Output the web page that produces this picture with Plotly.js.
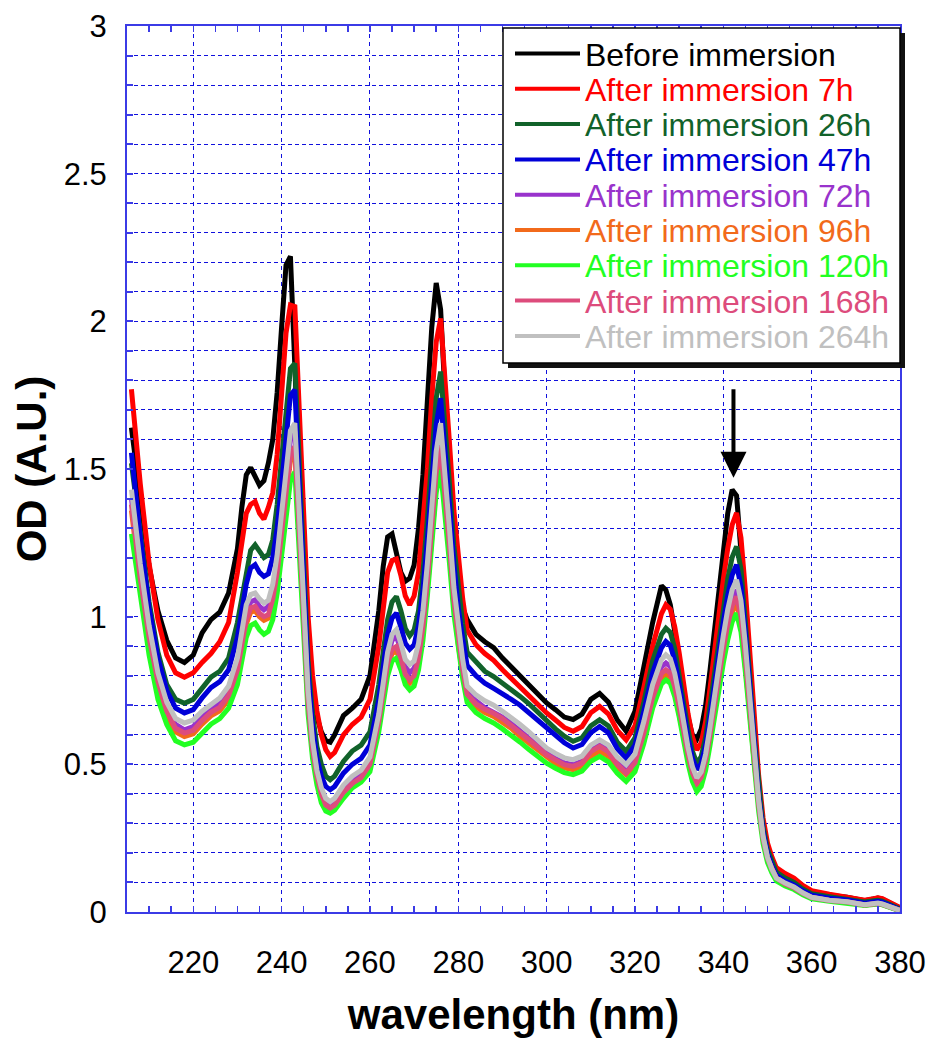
<!DOCTYPE html>
<html>
<head>
<meta charset="utf-8">
<script src="https://cdn.plot.ly/plotly-3.0.1.min.js"></script>
<style>html,body{margin:0;padding:0;background:#fff;}#chart{width:928px;height:1043px;}</style>
</head>
<body>
<div id="chart"></div>
<script>
// ---- data ----
const wavelength = [206,208,210,212,214,216,218,220,222,224,226,228,230,231,232,233,234,235,236,237,238,239,240,241,242,243,244,245,246,247,248,249,250,251,252,254,256,258,260,262,263,264,265,266,267,268,269,270,271,272,273,274,275,276,277,278,279,280,281,282,284,286,288,290,292,294,296,298,300,302,304,306,308,310,312,314,316,318,320,322,324,326,327,328,329,330,331,332,333,334,335,336,337,338,339,340,341,342,343,344,345,346,347,348,349,350,351,352,354,356,358,360,364,368,372,374,375,376,378,380];

const seriesNames = ["Before immersion","After immersion 7h","After immersion 26h","After immersion 47h","After immersion 72h","After immersion 96h","After immersion 120h","After immersion 168h","After immersion 264h"];
const seriesColors = ["#000000","#ff0000","#11622a","#0000d8","#9933cc","#f26a1b","#22ff22","#dd4c7c","#c0c0c0"];

const odBefore = [1.64,1.40,1.17,1.02,0.92,0.86,0.845,0.87,0.945,0.99,1.015,1.08,1.23,1.37,1.48,1.505,1.475,1.445,1.46,1.52,1.60,1.76,1.98,2.19,2.22,1.85,1.42,1.10,0.88,0.74,0.66,0.61,0.58,0.575,0.60,0.665,0.69,0.72,0.80,1.02,1.17,1.27,1.28,1.21,1.15,1.12,1.13,1.175,1.30,1.48,1.72,1.98,2.13,2.04,1.75,1.50,1.27,1.12,1.03,0.99,0.94,0.915,0.895,0.86,0.83,0.80,0.77,0.74,0.708,0.685,0.66,0.652,0.67,0.72,0.74,0.71,0.65,0.612,0.68,0.83,0.98,1.105,1.09,1.04,0.96,0.86,0.75,0.66,0.60,0.585,0.62,0.70,0.82,0.95,1.09,1.23,1.35,1.43,1.41,1.22,1.00,0.78,0.57,0.40,0.27,0.20,0.165,0.145,0.125,0.11,0.085,0.068,0.057,0.05,0.038,0.044,0.047,0.044,0.03,0.013];

const od7h = [1.77,1.45,1.18,0.99,0.87,0.81,0.795,0.81,0.845,0.875,0.915,0.98,1.15,1.25,1.35,1.38,1.39,1.35,1.33,1.37,1.42,1.55,1.74,1.96,2.055,2.05,1.70,1.30,1.00,0.80,0.68,0.60,0.55,0.527,0.54,0.60,0.635,0.66,0.72,0.90,1.04,1.15,1.19,1.195,1.14,1.07,1.04,1.07,1.15,1.32,1.50,1.74,1.93,2.01,1.82,1.59,1.36,1.19,1.06,0.955,0.905,0.875,0.852,0.82,0.79,0.76,0.735,0.705,0.674,0.65,0.625,0.612,0.628,0.675,0.696,0.67,0.615,0.583,0.63,0.76,0.90,1.01,1.04,1.025,0.966,0.878,0.77,0.672,0.593,0.549,0.573,0.645,0.758,0.886,1.014,1.126,1.231,1.311,1.351,1.267,1.087,0.871,0.654,0.462,0.318,0.234,0.186,0.15,0.13,0.115,0.09,0.072,0.06,0.052,0.04,0.045,0.048,0.045,0.032,0.015];

const od26h = [1.52,1.28,1.05,0.88,0.77,0.72,0.707,0.72,0.76,0.795,0.815,0.86,0.98,1.07,1.16,1.225,1.243,1.22,1.20,1.21,1.26,1.38,1.53,1.70,1.84,1.858,1.52,1.13,0.85,0.67,0.56,0.50,0.46,0.448,0.46,0.51,0.545,0.565,0.61,0.77,0.88,0.99,1.05,1.068,1.02,0.96,0.935,0.955,1.02,1.15,1.33,1.53,1.74,1.83,1.66,1.45,1.24,1.09,0.975,0.88,0.845,0.815,0.797,0.775,0.755,0.73,0.705,0.675,0.645,0.62,0.595,0.578,0.59,0.63,0.651,0.63,0.575,0.544,0.59,0.71,0.85,0.94,0.961,0.947,0.892,0.81,0.71,0.618,0.545,0.504,0.526,0.592,0.695,0.812,0.93,1.032,1.128,1.201,1.238,1.161,0.995,0.797,0.598,0.422,0.289,0.212,0.168,0.135,0.115,0.1,0.078,0.062,0.052,0.045,0.034,0.038,0.04,0.037,0.025,0.01];

const od47h = [1.555,1.27,1.03,0.86,0.75,0.69,0.674,0.685,0.725,0.76,0.78,0.82,0.93,1.02,1.11,1.165,1.176,1.15,1.136,1.145,1.20,1.30,1.45,1.62,1.75,1.768,1.44,1.08,0.81,0.63,0.52,0.46,0.425,0.414,0.425,0.47,0.50,0.52,0.565,0.72,0.83,0.94,0.995,1.012,0.965,0.91,0.89,0.905,0.97,1.09,1.26,1.45,1.65,1.74,1.58,1.38,1.18,1.03,0.925,0.835,0.80,0.775,0.757,0.74,0.72,0.70,0.675,0.65,0.628,0.60,0.573,0.555,0.567,0.607,0.628,0.607,0.553,0.521,0.565,0.68,0.81,0.895,0.916,0.903,0.851,0.773,0.677,0.591,0.521,0.482,0.503,0.565,0.662,0.773,0.885,0.982,1.072,1.141,1.176,1.102,0.945,0.756,0.566,0.398,0.272,0.199,0.157,0.125,0.105,0.092,0.072,0.057,0.047,0.041,0.03,0.034,0.036,0.033,0.022,0.008];

const od72h = [1.40,1.15,0.94,0.79,0.69,0.635,0.617,0.628,0.66,0.688,0.705,0.745,0.835,0.925,1.015,1.05,1.057,1.035,1.023,1.035,1.08,1.18,1.32,1.47,1.60,1.627,1.33,0.98,0.73,0.57,0.47,0.41,0.372,0.36,0.372,0.415,0.445,0.465,0.51,0.655,0.76,0.86,0.92,0.933,0.885,0.83,0.81,0.825,0.88,0.99,1.15,1.33,1.52,1.61,1.455,1.265,1.075,0.938,0.834,0.748,0.715,0.692,0.678,0.66,0.638,0.612,0.588,0.562,0.538,0.52,0.505,0.499,0.51,0.548,0.566,0.548,0.51,0.488,0.52,0.625,0.745,0.83,0.843,0.831,0.783,0.712,0.624,0.545,0.481,0.445,0.464,0.523,0.613,0.716,0.82,0.91,0.994,1.059,1.091,1.023,0.876,0.701,0.525,0.369,0.252,0.183,0.144,0.115,0.095,0.082,0.063,0.049,0.039,0.034,0.024,0.027,0.029,0.026,0.017,0.005];

const od96h = [1.36,1.11,0.91,0.76,0.665,0.61,0.594,0.603,0.636,0.664,0.681,0.72,0.805,0.89,0.975,1.015,1.02,1.0,0.988,0.995,1.045,1.14,1.26,1.40,1.53,1.555,1.27,0.94,0.70,0.54,0.45,0.39,0.355,0.345,0.355,0.40,0.43,0.45,0.49,0.635,0.735,0.825,0.875,0.885,0.845,0.79,0.775,0.79,0.845,0.945,1.095,1.265,1.44,1.52,1.385,1.21,1.032,0.904,0.807,0.727,0.695,0.675,0.662,0.643,0.622,0.595,0.572,0.545,0.521,0.503,0.488,0.482,0.493,0.527,0.544,0.527,0.492,0.465,0.498,0.595,0.71,0.79,0.803,0.792,0.746,0.678,0.595,0.52,0.459,0.425,0.444,0.50,0.586,0.686,0.785,0.872,0.953,1.015,1.046,0.981,0.841,0.674,0.506,0.357,0.245,0.18,0.143,0.115,0.095,0.082,0.063,0.049,0.039,0.034,0.024,0.027,0.029,0.026,0.017,0.005];

const od120h = [1.28,1.06,0.87,0.72,0.635,0.58,0.566,0.575,0.605,0.636,0.655,0.69,0.77,0.85,0.93,0.97,0.978,0.955,0.94,0.95,0.99,1.08,1.20,1.34,1.46,1.49,1.22,0.90,0.67,0.52,0.43,0.37,0.342,0.335,0.345,0.385,0.42,0.44,0.475,0.61,0.71,0.80,0.85,0.86,0.82,0.77,0.752,0.765,0.82,0.92,1.07,1.24,1.42,1.497,1.355,1.182,1.009,0.883,0.789,0.71,0.675,0.655,0.64,0.62,0.60,0.575,0.55,0.527,0.504,0.487,0.472,0.465,0.477,0.51,0.527,0.508,0.47,0.442,0.475,0.57,0.69,0.772,0.786,0.775,0.729,0.661,0.578,0.503,0.442,0.408,0.426,0.48,0.565,0.662,0.758,0.843,0.921,0.982,1.012,0.948,0.812,0.649,0.486,0.341,0.232,0.168,0.132,0.105,0.088,0.076,0.058,0.045,0.036,0.031,0.022,0.025,0.027,0.024,0.015,0.004];

const od168h = [1.38,1.13,0.93,0.78,0.68,0.622,0.606,0.615,0.648,0.676,0.693,0.733,0.82,0.905,0.99,1.03,1.035,1.012,1.0,1.007,1.06,1.15,1.28,1.42,1.55,1.576,1.29,0.95,0.71,0.55,0.46,0.40,0.362,0.352,0.362,0.405,0.435,0.455,0.50,0.645,0.745,0.84,0.89,0.899,0.86,0.805,0.786,0.80,0.86,0.965,1.12,1.30,1.49,1.576,1.425,1.24,1.056,0.922,0.821,0.737,0.705,0.686,0.673,0.655,0.633,0.607,0.583,0.557,0.533,0.515,0.499,0.493,0.505,0.543,0.561,0.542,0.50,0.471,0.505,0.605,0.725,0.808,0.82,0.809,0.763,0.694,0.609,0.533,0.471,0.437,0.456,0.513,0.601,0.702,0.803,0.891,0.973,1.036,1.068,1.001,0.858,0.687,0.515,0.363,0.248,0.182,0.144,0.115,0.095,0.082,0.063,0.049,0.039,0.034,0.024,0.027,0.029,0.026,0.017,0.005];

const od264h = [1.43,1.18,0.97,0.81,0.71,0.655,0.64,0.65,0.68,0.705,0.725,0.765,0.86,0.95,1.04,1.075,1.08,1.06,1.046,1.055,1.11,1.21,1.35,1.50,1.63,1.655,1.35,1.00,0.75,0.58,0.48,0.42,0.385,0.374,0.385,0.43,0.46,0.48,0.525,0.67,0.78,0.88,0.94,0.956,0.91,0.855,0.838,0.85,0.91,1.02,1.18,1.37,1.56,1.655,1.495,1.30,1.10,0.96,0.855,0.765,0.735,0.715,0.70,0.68,0.66,0.635,0.61,0.582,0.555,0.537,0.522,0.516,0.528,0.565,0.583,0.565,0.525,0.499,0.535,0.645,0.77,0.855,0.871,0.858,0.808,0.733,0.642,0.558,0.492,0.454,0.474,0.535,0.628,0.736,0.843,0.937,1.024,1.091,1.125,1.054,0.903,0.721,0.539,0.378,0.256,0.186,0.145,0.115,0.098,0.085,0.065,0.05,0.04,0.035,0.025,0.028,0.03,0.027,0.018,0.005];

const seriesValues = [odBefore, od7h, od26h, od47h, od72h, od96h, od120h, od168h, od264h];

const xTitle = "wavelength (nm)";
const yTitle = "OD (A.U.)";
const arrowTarget = {x: 342.3, y: 1.47};

// ---- layout geometry ----
const W = 928, H = 1043;
const M = {l: 127, r: 28, t: 26, b: 131};
const PW = W - M.l - M.r, PH = H - M.t - M.b;
const px = v => (v - M.l) / PW;          // pixel x -> paper
const py = v => (H - M.b - v) / PH;      // pixel y -> paper

const FONT = "Liberation Sans, Arial, sans-serif";
const AXIS_BLUE = "#3b3be6";
const GRID_BLUE = "#1010dd";

const traces = seriesNames.map((name, i) => ({
  type: "scatter", mode: "lines", name: name,
  x: wavelength, y: seriesValues[i],
  line: {color: seriesColors[i], width: 5},
  showlegend: false
}));

// custom legend box
const shapes = [];
const annotations = [];
const LB = {x0: 503, x1: 900, y0: 28, y1: 363};
shapes.push({type: "rect", xref: "paper", yref: "paper",
  x0: px(LB.x0 + 5), x1: px(LB.x1 + 5), y0: py(LB.y1 + 5), y1: py(LB.y0 + 5),
  fillcolor: "#111", line: {width: 0}, layer: "above"});
shapes.push({type: "rect", xref: "paper", yref: "paper",
  x0: px(LB.x0), x1: px(LB.x1), y0: py(LB.y1), y1: py(LB.y0),
  fillcolor: "#ffffff", line: {color: "#000", width: 1.5}, layer: "above"});
seriesNames.forEach((name, i) => {
  const yc = 53.5 + i * 35.3;
  shapes.push({type: "line", xref: "paper", yref: "paper",
    x0: px(515), x1: px(580), y0: py(yc), y1: py(yc),
    line: {color: seriesColors[i], width: 4}, layer: "above"});
  annotations.push({xref: "paper", yref: "paper", x: px(583), y: py(yc + 1),
    xanchor: "left", yanchor: "middle", showarrow: false, text: name,
    font: {family: FONT, size: 32, color: seriesColors[i]}});
});

// arrow
annotations.push({x: arrowTarget.x, y: arrowTarget.y, xref: "x", yref: "y",
  ax: 0, ay: -90, showarrow: true, arrowhead: 2, arrowsize: 1.3, arrowwidth: 4,
  arrowcolor: "#000", text: ""});

const layout = {
  width: W, height: H,
  margin: M,
  paper_bgcolor: "#fff", plot_bgcolor: "#fff",
  font: {family: FONT, size: 30, color: "#000"},
  showlegend: false,
  xaxis: {
    range: [205, 380], tick0: 200, dtick: 20,
    showgrid: true, gridcolor: GRID_BLUE, gridwidth: 1, griddash: "4px,4px",
    showline: true, linecolor: AXIS_BLUE, linewidth: 2, mirror: "ticks",
    ticks: "inside", ticklen: 6, tickcolor: AXIS_BLUE, tickwidth: 1.5,
    minor: {dtick: 5, tick0: 200, ticks: "inside", ticklen: 6, tickcolor: AXIS_BLUE, tickwidth: 1.5, showgrid: false},
    ticklabelstandoff: 22,
    tickfont: {family: FONT, size: 31, color: "#000"},
    zeroline: false, automargin: false,
    title: {text: xTitle, font: {family: FONT, size: 42, color: "#000", weight: "bold"}, standoff: 20}
  },
  yaxis: {
    range: [0, 3], tick0: 0, dtick: 0.5,
    showgrid: true, gridcolor: GRID_BLUE, gridwidth: 1, griddash: "4px,3px",
    showline: true, linecolor: AXIS_BLUE, linewidth: 2, mirror: true,
    ticks: "inside", ticklen: 6, tickcolor: AXIS_BLUE, tickwidth: 2,
    minor: {dtick: 0.1, ticks: "inside", ticklen: 6, tickcolor: AXIS_BLUE, tickwidth: 2,
      showgrid: true, gridcolor: GRID_BLUE, gridwidth: 1, griddash: "4px,3px"},
    ticklabelstandoff: 12,
    tickfont: {family: FONT, size: 31, color: "#000"},
    zeroline: false, automargin: false,
    title: {text: yTitle, font: {family: FONT, size: 42, color: "#000", weight: "bold"}, standoff: 4}
  },
  shapes: shapes,
  annotations: annotations
};

Plotly.newPlot("chart", traces, layout, {displayModeBar: false, staticPlot: true});
</script>
</body>
</html>
